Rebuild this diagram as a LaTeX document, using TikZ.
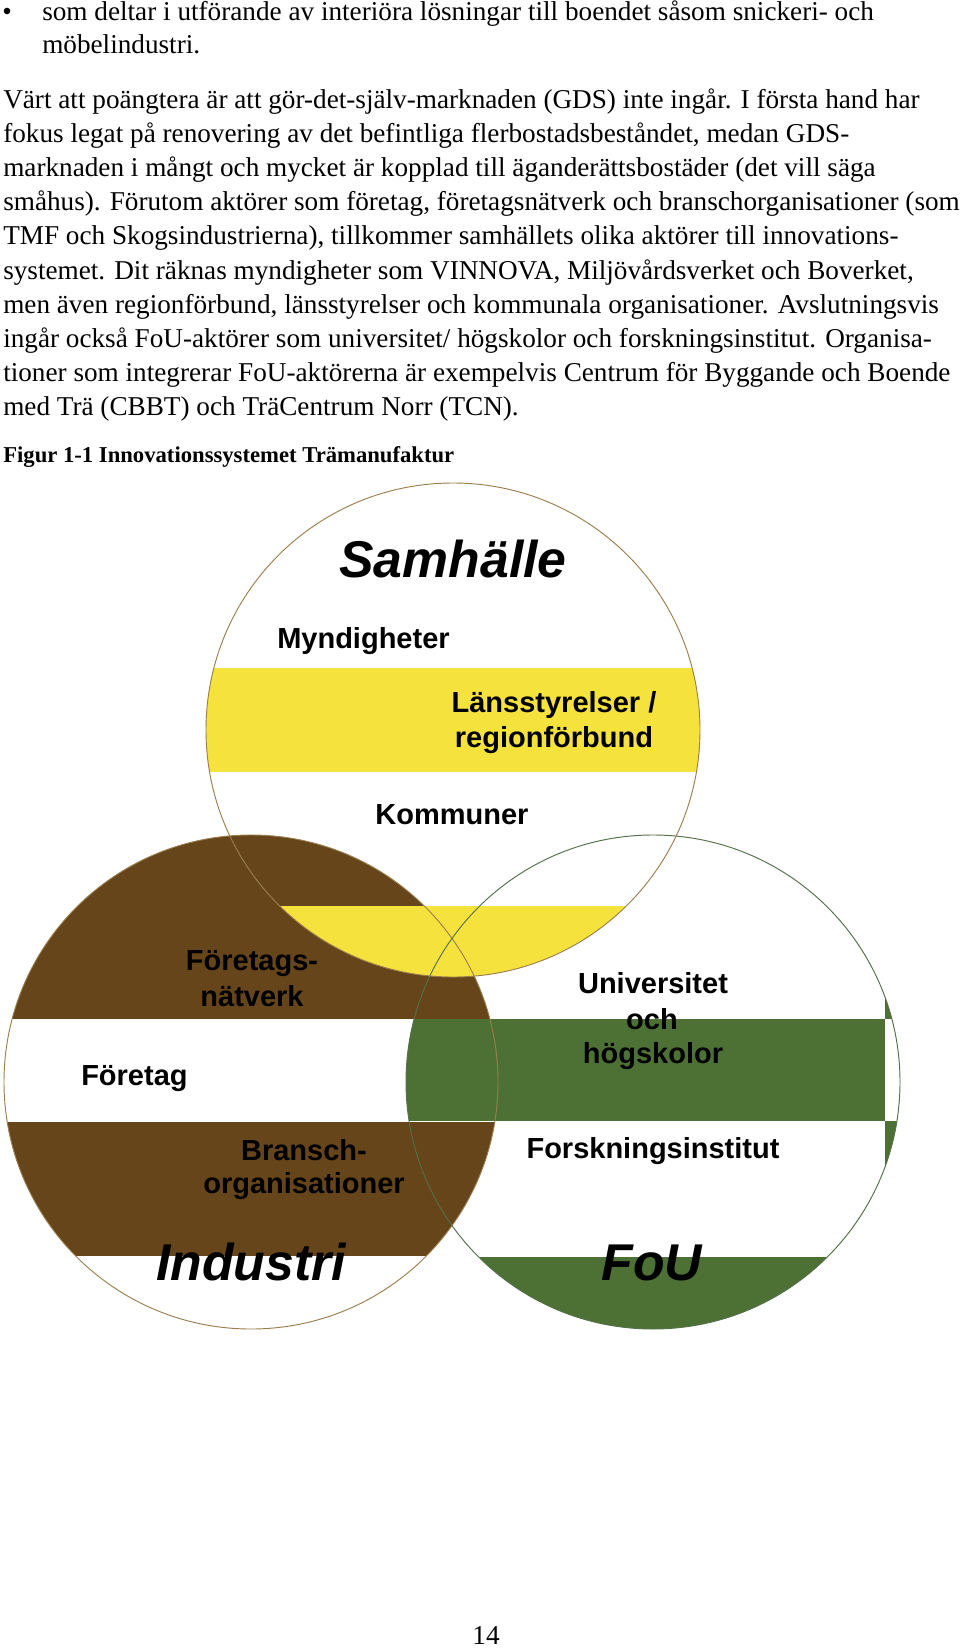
\documentclass[tikz,border=0pt]{standalone}
\usepackage{fontspec}
\setmainfont{Liberation Serif}
\newfontfamily\arialfont{Liberation Sans}
\definecolor{indbrown}{HTML}{654519}
\definecolor{samyellow}{HTML}{F6E23C}
\definecolor{fougreen}{HTML}{4D7135}
\definecolor{tanline}{HTML}{9B7E4E}
\definecolor{greenline}{HTML}{55704A}
\begin{document}
\begin{tikzpicture}[x=0.75pt,y=-0.75pt,
  body/.style={anchor=base west, inner sep=0pt, font=\fontsize{20.4}{24}\selectfont},
  caption/.style={anchor=base west, inner sep=0pt, font=\bfseries\fontsize{17}{20}\selectfont},
  lbl/.style={anchor=base, inner sep=0pt, font=\arialfont\bfseries\fontsize{21.75}{26}\selectfont},
  lblw/.style={anchor=base west, inner sep=0pt, font=\arialfont\bfseries\fontsize{21.75}{26}\selectfont},
  bigl/.style={anchor=base, inner sep=0pt, font=\arialfont\bfseries\itshape\fontsize{38.8}{46}\selectfont},
  ring/.style={line width=0.7pt}]
\useasboundingbox[fill=white] (0,0) rectangle (960,1649);

% ---- running text ----
\node[body] (bul) at (2,20.5) {•};
\node[body] (l1) at (42,20.5) {som deltar i utförande av interiöra lösningar till boendet såsom snickeri- och};
\node[body] (l2) at (42,53.5) {möbelindustri.};
\node[body] (l3) at (3,108) {Värt att poängtera är att gör-det-själv-marknaden (GDS) inte ingår. I första hand har};
\node[body] (l4) at (3,142.2) {fokus legat på renovering av det befintliga flerbostadsbeståndet, medan GDS-};
\node[body] (l5) at (3,176.4) {marknaden i mångt och mycket är kopplad till äganderättsbostäder (det vill säga};
\node[body] (l6) at (3,210.6) {småhus). Förutom aktörer som företag, företagsnätverk och branschorganisationer (som};
\node[body] (l7) at (3,244.8) {TMF och Skogsindustrierna), tillkommer samhällets olika aktörer till innovations-};
\node[body] (l8) at (3,279) {systemet. Dit räknas myndigheter som VINNOVA, Miljövårdsverket och Boverket,};
\node[body] (l9) at (3,313.2) {men även regionförbund, länsstyrelser och kommunala organisationer. Avslutningsvis};
\node[body] (l10) at (3,347.4) {ingår också FoU-aktörer som universitet/ högskolor och forskningsinstitut. Organisa-};
\node[body] (l11) at (3,381.6) {tioner som integrerar FoU-aktörerna är exempelvis Centrum för Byggande och Boende};
\node[body] (l12) at (3,415.8) {med Trä (CBBT) och TräCentrum Norr (TCN).};
\node[caption] (cap) at (3,462) {Figur 1-1 Innovationssystemet Trämanufaktur};

% ---- circles ----
\coordinate (cT) at (453,730);
\coordinate (cL) at (251,1082);
\coordinate (cR) at (653,1082);

% FoU circle
\begin{scope}
  \clip (cR) circle[radius=185.25pt];
  \fill[fougreen] (400,830) rectangle (905,1335);
  \fill[white] (400,830) rectangle (885,1019);
  \fill[white] (885,1019) rectangle (905,1121);
  \fill[white] (400,1121) rectangle (885,1257);
\end{scope}
% Industri circle
\begin{scope}
  \clip (cL) circle[radius=185.25pt];
  \fill[indbrown] (0,830) rectangle (500,1019);
  \fill[indbrown] (0,1122) rectangle (500,1256);
\end{scope}
% Samhalle circle
\begin{scope}
  \clip (cT) circle[radius=185.25pt];
  \fill[samyellow] (200,668) rectangle (710,772);
  \fill[samyellow] (200,906) rectangle (710,985);
\end{scope}

\draw[ring,tanline] (cL) circle[radius=185.25pt];
\draw[ring,greenline] (cR) circle[radius=185.25pt];
\draw[ring,tanline] (cT) circle[radius=185.25pt];

% ---- labels ----
\node[bigl] (samh) at (453,577) {Samhälle};
\node[lblw] (mynd) at (277,648) {Myndigheter};
\node[lbl] (lans1) at (554,712) {Länsstyrelser /};
\node[lbl] (lans2) at (554,747) {regionförbund};
\node[lbl] (komm) at (452,824) {Kommuner};
\node[lbl] (fn1) at (252,970) {Företags-};
\node[lbl] (fn2) at (252,1006) {nätverk};
\node[lblw] (ftg) at (81,1085) {Företag};
\node[lbl] (br1) at (304,1160) {Bransch-};
\node[lbl] (br2) at (304,1193) {organisationer};
\node[bigl] (ind) at (251,1280) {Industri};
\node[lbl] (uni1) at (653,993) {Universitet};
\node[lbl] (uni2) at (652,1029) {och};
\node[lbl] (uni3) at (653,1063) {högskolor};
\node[lbl] (fi) at (653,1158) {Forskningsinstitut};
\node[bigl] (fou) at (652,1280) {FoU};

\node[anchor=base, inner sep=0pt, font=\fontsize{20.4}{24}\selectfont] (pg) at (486,1644) {14};
\end{tikzpicture}
\end{document}
